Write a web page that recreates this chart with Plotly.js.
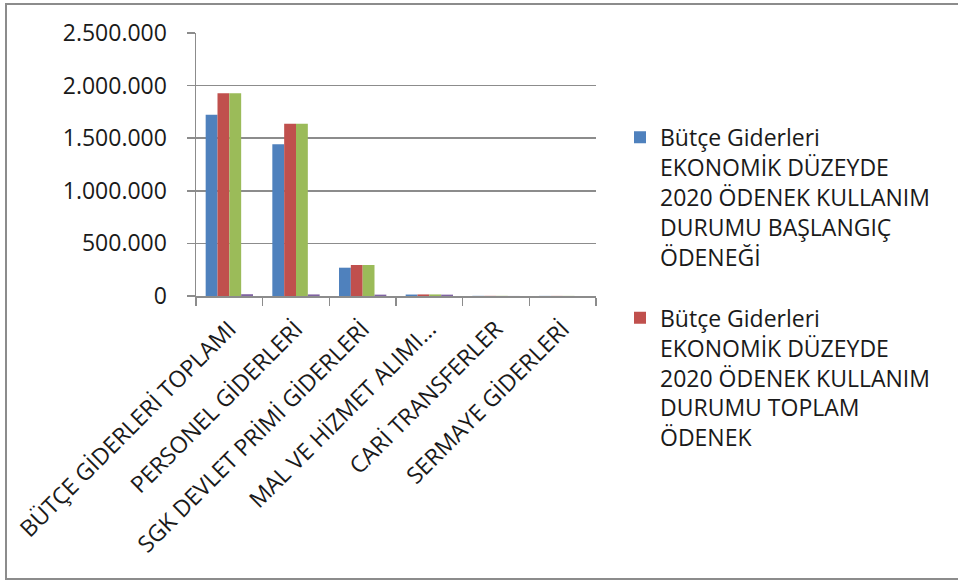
<!DOCTYPE html>
<html>
<head>
<meta charset="utf-8">
<script src="https://cdn.plot.ly/plotly-3.0.1.min.js"></script>
<style>
  html, body { margin: 0; padding: 0; background: #fff; }
  #wrap { position: relative; width: 958px; height: 580px; overflow: hidden; }
  #chart { position: absolute; left: 0; top: 0; width: 958px; height: 580px; }
  #frame { position: absolute; left: 5px; top: 3px; width: 960px; height: 573px;
           border-left: 2px solid #8c8c8c; border-top: 2px solid #8c8c8c; border-bottom: 2px solid #8c8c8c;
           pointer-events: none; }
</style>
</head>
<body>
<div id="wrap">
  <div id="chart"></div>
  <div id="frame"></div>
</div>
<script>
const categories = [
  "BÜTÇE GİDERLERİ TOPLAMI",
  "PERSONEL GİDERLERİ",
  "SGK DEVLET PRİMİ GİDERLERİ",
  "MAL VE HİZMET ALIMI...",
  "CARİ TRANSFERLER",
  "SERMAYE GİDERLERİ"
];
const seriesNames = [
  "Bütçe Giderleri<br>EKONOMİK DÜZEYDE<br>2020 ÖDENEK KULLANIM<br>DURUMU BAŞLANGIÇ<br>ÖDENEĞİ",
  "Bütçe Giderleri<br>EKONOMİK DÜZEYDE<br>2020 ÖDENEK KULLANIM<br>DURUMU TOPLAM<br>ÖDENEK",
  "Seri 3",
  "Seri 4"
];
const baslangicOdenegi = [1723000, 1442000, 269000, 14000, 1500, 1000];
const toplamOdenek     = [1927000, 1638000, 295000, 15000, 1500, 1000];
const seri3            = [1927000, 1638000, 295000, 15000, 1500, 1000];
const seri4            = [17000, 15000, 13000, 13000, 500, 300];
const seriesValues = [baslangicOdenegi, toplamOdenek, seri3, seri4];
const colors = ["#4F81BD", "#C0504D", "#9BBB59", "#8064A2"];
const inLegend = [true, true, false, false];
const yTicks = [0, 500000, 1000000, 1500000, 2000000, 2500000];

const FONT = "Open Sans, Liberation Sans, sans-serif";

const data = seriesValues.map((vals, i) => ({
  type: "bar",
  x: categories,
  y: vals,
  name: seriesNames[i],
  legendgroup: "g" + i,
  showlegend: inLegend[i],
  marker: { color: colors[i], line: { width: 0 } },
  hoverinfo: "x+y"
}));

const layout = {
  width: 958,
  height: 580,
  margin: { l: 196, r: 362, t: 33, b: 284, pad: 0 },
  paper_bgcolor: "#ffffff",
  plot_bgcolor: "#ffffff",
  separators: ",.",
  barmode: "group",
  bargap: 0.29,
  bargroupgap: 0,
  font: { family: FONT, size: 23, color: "#1a1a1a" },
  xaxis: {
    type: "category",
    showgrid: false,
    showline: true,
    linecolor: "#8c8c8c",
    linewidth: 1.5,
    ticks: "outside",
    tickson: "boundaries",
    ticklen: 8,
    tickcolor: "#8c8c8c",
    tickwidth: 1.5,
    tickangle: -45,
    ticklabelstandoff: 9,
    tickfont: { family: FONT, size: 23, color: "#1a1a1a" },
    fixedrange: true
  },
  yaxis: {
    range: [0, 2500000],
    tickvals: yTicks,
    tickformat: ",d",
    showgrid: true,
    gridcolor: "#8c8c8c",
    gridwidth: 1.5,
    zeroline: false,
    showline: true,
    linecolor: "#8c8c8c",
    linewidth: 1.5,
    ticks: "outside",
    ticklen: 8,
    tickcolor: "#8c8c8c",
    tickwidth: 1.5,
    ticklabelstandoff: 15,
    tickfont: { family: FONT, size: 23, color: "#1a1a1a" },
    fixedrange: true
  },
  legend: {
    x: 1.06,
    xanchor: "left",
    y: 0.685,
    yanchor: "top",
    valign: "top",
    maxheight: 1000,
    font: { family: FONT, size: 23, color: "#1a1a1a" },
    tracegroupgap: 28,
    bgcolor: "rgba(0,0,0,0)",
    itemsizing: "constant"
  },
  showlegend: true
};

Plotly.newPlot("chart", data, layout, { displayModeBar: false, staticPlot: true });
</script>
</body>
</html>
